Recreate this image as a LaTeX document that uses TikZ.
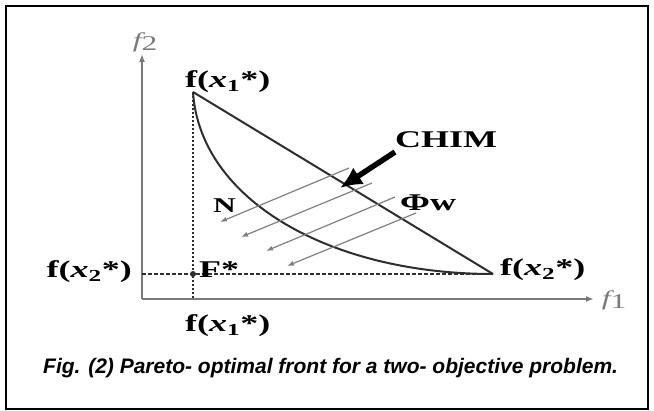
\documentclass[tikz,border=0pt]{standalone}
\usepackage{fontspec}
\usetikzlibrary{arrows.meta}
\newfontfamily\figfont[FakeStretch=1.5]{Liberation Serif}
\newfontfamily\capfont{Liberation Sans}
\definecolor{axisgray}{HTML}{7A7A7A}
\definecolor{frontgray}{HTML}{2E2E2E}
\definecolor{raygray}{HTML}{808080}
\newcommand{\fxs}[1]{f(\textit{x}\textsubscript{#1}*)}
\tikzset{
  lbl/.style={font=\figfont\fontsize{24}{24}\selectfont\bfseries, inner sep=0pt},
  axlbl/.style={font=\figfont\fontsize{21}{21}\selectfont\itshape, text=axisgray, inner sep=0pt},
  axis/.style={axisgray, line width=2pt, -{Latex[length=8pt,width=6pt]}},
  front/.style={frontgray, line width=2pt},
  guide/.style={frontgray, line width=1.3pt, dash pattern=on 3.5pt off 2.5pt},
  ray/.style={raygray, line width=1.2pt, -{Latex[length=7pt,width=5pt]}}
}
\begin{document}
\begin{tikzpicture}[>=latex, x=1pt, y=-1pt]
  \useasboundingbox (0,0) rectangle (654,411);
  \draw[line width=2pt] (6,6) rectangle (648,409);
  % axes
  \coordinate (O) at (142,299);
  \coordinate (xend) at (594,299);
  \coordinate (yend) at (142,54);
  \draw[axis] (O)--(xend);
  \draw[axis] (O)--(yend);
  \node[axlbl] (f1lab) at (614,300) {f\raisebox{-3pt}{\upshape 1}};
  \node[axlbl] (f2lab) at (145,42) {f\raisebox{-3pt}{\upshape 2}};
  % extreme points and utopia point
  \coordinate (T) at (193,92);
  \coordinate (R) at (493,274);
  \coordinate (F) at (193,274);
  \coordinate (Fx) at (193,299);
  \coordinate (Fy) at (142,274);
  \draw[guide, dash pattern=on 2pt off 2pt] (T)--(Fx);
  \draw[guide] (Fy)--(R);
  \fill[frontgray] (F) circle (3);
  % CHIM and Pareto front
  \draw[front] (T)--(R);
  \draw[front] (T) .. controls (200,200) and (330,274) .. (R);
  % normal rays
  \foreach \i/\sx/\sy/\ex/\ey in {1/349/168/220/222, 2/372/183/241/237, 3/395/197/266/251, 4/416/213/287/266}
  {
      \coordinate (s\i) at (\sx,\sy);
      \coordinate (e\i) at (\ex,\ey);
      \draw[ray] (s\i)--(e\i);
  }
  \coordinate (cs) at (395,152);
  \coordinate (ct) at (340,188);
  \draw[line width=5.5pt, -{Latex[length=22pt,width=20pt]}] (cs)--(ct);
  % labels
  \node[lbl, anchor=base west] (topl) at (185,88) {\fxs{1}};
  \node[lbl, anchor=base west] (botl) at (185,332) {\fxs{1}};
  \node[lbl, anchor=base east] (leftl) at (132,278) {\fxs{2}};
  \node[lbl, anchor=base west] (rightl) at (500,276) {\fxs{2}};
  \node[lbl, anchor=base west] (Fl) at (199,278) {F*};
  \node[lbl, anchor=base west] (chim) at (395,148) {CHIM};
  \node[lbl, anchor=base west] (phiw) at (400,211) {Φw};
  \node[lbl, font=\figfont\fontsize{21}{21}\selectfont\bfseries, anchor=base west] (Nl) at (213,213) {N};
  \node[font=\capfont\fontsize{21}{21}\selectfont\bfseries\itshape, anchor=base west, inner sep=0pt] (cap) at (43,374)
      {Fig. (2) Pareto- optimal front for a two- objective problem.};
\end{tikzpicture}
\end{document}
